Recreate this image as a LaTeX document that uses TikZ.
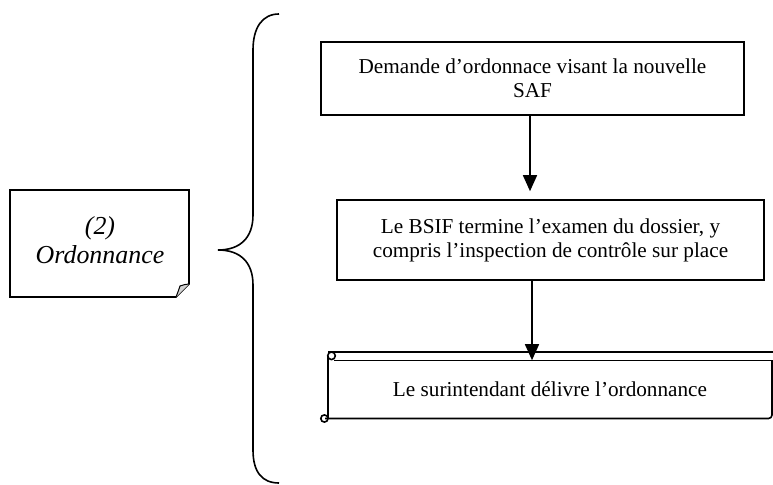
\documentclass[tikz,border=0pt]{standalone}
\usepackage{fontspec}
\setmainfont{Liberation Serif}
\usetikzlibrary{arrows.meta}
\begin{document}
\begin{tikzpicture}[x=1bp,y=-1bp,
  line width=1.6bp,
  boxtxt/.style={font=\fontsize{21.3}{24}\selectfont, align=center, inner sep=0pt},
  flowbox/.style={draw, boxtxt},
  arr/.style={-{Triangle[length=16bp,width=14bp]}, line width=1.6bp},
  notetxt/.style={font=\fontsize{26}{29}\selectfont\itshape, align=center, inner sep=0pt}]
\useasboundingbox (0,0) rectangle (773,485);

% left note with folded corner
\draw (10,190) -- (189,190) -- (189,284) -- (176,297) -- (10,297) -- cycle;
\filldraw[fill=gray!35, line width=1bp] (176,297) .. controls (178,292) and (179,289) .. (180,286) .. controls (183,285) and (186,284) .. (189,284);
\node[notetxt] (note) at (100,240) {(2)\\Ordonnance};

% brace
\draw (279,14) .. controls (262,14) and (253,28) .. (253,50) -- (253,215)
  .. controls (253,238) and (240,250) .. (218,250)
  .. controls (240,250) and (253,262) .. (253,285) -- (253,450)
  .. controls (253,472) and (262,483) .. (279,483);

% flow boxes
\node[flowbox, minimum width=423bp, minimum height=73bp] (box1) at (532.5,78.5)
  {Demande d’ordonnace visant la nouvelle\\SAF};
\node[flowbox, minimum width=427bp, minimum height=80bp] (box2) at (550.5,240)
  {Le BSIF termine l’examen du dossier, y\\compris l’inspection de contrôle sur place};

% scroll
\node[boxtxt, minimum width=444bp, minimum height=57bp] (scroll) at (550,389.5)
  {Le surintendant délivre l’ordonnance};
\draw (328,352) -- (773,352);
\draw (334,360.5) -- (773,360.5);
\draw (331.5,352) arc[start angle=90, end angle=450, radius=3.8bp];
\draw (328,356) -- (328,418.5);
\draw (325,418.5) -- (768.5,418.5) arc[start angle=270, end angle=360, radius=3.5bp] -- (772,360.5);
\draw (328,418.5) arc[start angle=0, end angle=360, radius=3.6bp];

% arrows
\coordinate (a1) at ([xshift=-2.5bp]box1.south);
\draw[arr, shorten >=8bp] (a1) -- (a1 |- box2.north);
\coordinate (a2) at ([xshift=-18.5bp]box2.south);
\draw[arr] (a2) -- (a2 |- scroll.north);
\end{tikzpicture}
\end{document}
